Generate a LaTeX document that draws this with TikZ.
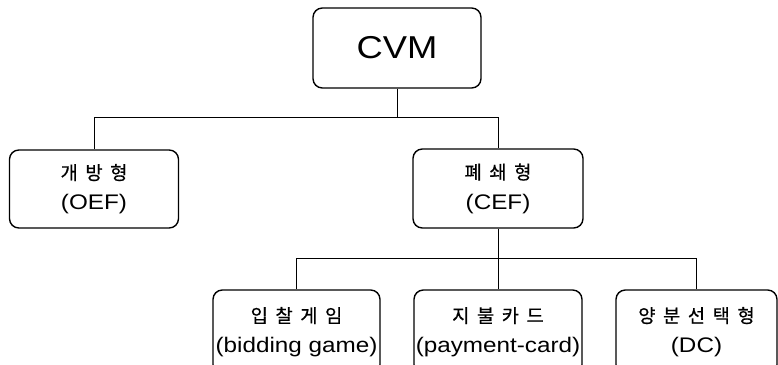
\documentclass[tikz,border=0pt]{standalone}
\usepackage{fontspec}
\setmainfont{Liberation Sans}[FakeStretch=1.15]
\newfontfamily\kr[WordSpace=1.8, FakeBold=0.6]{Noto Sans CJK KR}
\usepackage{tikz}

\begin{document}
\begin{tikzpicture}[x=0.03cm, y=-0.03cm,
        box/.style={draw, line width=1.2pt, rounded corners=8pt, align=center, inner sep=0pt, font=\fontsize{18}{25.6}\selectfont},
        link/.style={line width=0.6pt}]
        \useasboundingbox (0,0) rectangle (778,365);
        \clip (0,0) rectangle (778,365);

        \node[box, minimum width=168*0.03cm, minimum height=80*0.03cm, font=\fontsize{27}{32}\selectfont] (cvm) at (397,48) {CVM};

        \node[box, minimum width=169*0.03cm, minimum height=78*0.03cm] (oef) at (94,189) {{\kr\fontsize{16}{18}\selectfont 개 방 형}\\(OEF)};
        \node[box, minimum width=170*0.03cm, minimum height=79*0.03cm] (cef) at (498,188.5) {{\kr\fontsize{16}{18}\selectfont 폐 쇄 형}\\(CEF)};

        \node[box, minimum width=167*0.03cm, minimum height=84*0.03cm] (bid) at (296.5,332) {{\kr\fontsize{16}{18}\selectfont 입 찰 게 임}\\(bidding game)};
        \node[box, minimum width=168*0.03cm, minimum height=84*0.03cm] (pay) at (498,332) {{\kr\fontsize{16}{18}\selectfont 지 불 카 드}\\(payment-card)};
        \node[box, minimum width=161*0.03cm, minimum height=84*0.03cm] (dc) at (696.5,332) {{\kr\fontsize{16}{18}\selectfont 양 분 선 택 형}\\(DC)};

        % branch points
        \coordinate (top) at (397,117);
        \coordinate (mid) at (498,258);

        \draw[link] (cvm) -- (top);
        \draw[link] (top) -| (oef);
        \draw[link] (top) -| (cef);

        \draw[link] (cef) -- (mid);
        \draw[link] (mid) -| (bid);
        \draw[link] (mid) -- (pay);
        \draw[link] (mid) -| (dc);
    \end{tikzpicture}
\end{document}
